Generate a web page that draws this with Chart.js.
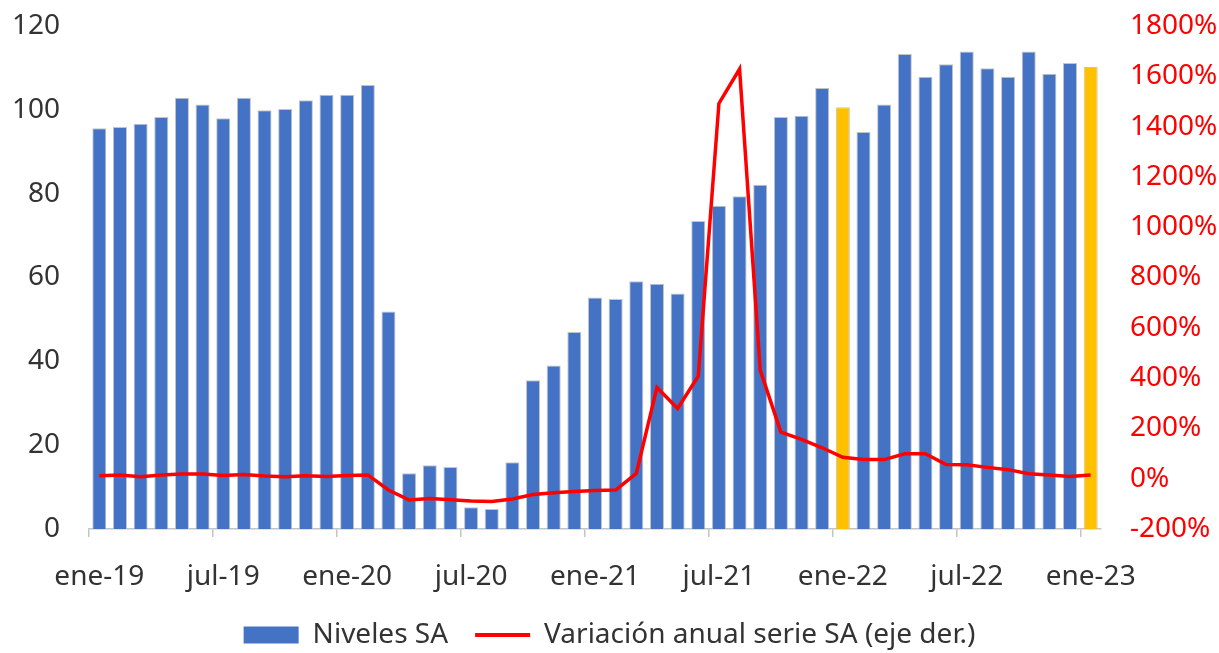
<!DOCTYPE html>
<html>
<head>
<meta charset="utf-8">
<script src="https://cdn.jsdelivr.net/npm/chart.js@4.4.1/dist/chart.umd.min.js"></script>
<style>
  html, body { margin: 0; padding: 0; background: #fff; }
</style>
</head>
<body>
<canvas id="grafico" width="1219" height="653"></canvas>
<script>
// etiquetas mensuales ene-19 ... ene-23
const meses = ['ene', 'feb', 'mar', 'abr', 'may', 'jun', 'jul', 'ago', 'sep', 'oct', 'nov', 'dic'];
let etiquetas = [];
for (let a = 19; a <= 23; a++) {
    for (let m = 0; m < 12; m++) {
        etiquetas.push(meses[m] + '-' + a);
        if (a === 23) break;
    }
}

// niveles desestacionalizados (eje izq.)
const niveles = [95.6, 95.9, 96.7, 98.3, 102.9, 101.3, 98.0, 102.9, 99.9, 100.2, 102.3, 103.6,
    103.6, 105.9, 51.9, 13.3, 15.2, 14.8, 5.2, 4.8, 15.9, 35.5, 39.0, 47.0,
    55.2, 54.9, 59.1, 58.5, 56.2, 73.5, 77.1, 79.4, 82.1, 98.3, 98.6, 105.2,
    100.6, 94.7, 101.3, 113.3, 107.9, 110.9, 113.9, 109.9, 107.9, 113.9, 108.6, 111.2,
    110.2];

// variacion anual en % (eje der.)
const variacion = [12, 15, 8, 15, 19, 19, 13, 17, 11, 8, 12, 9,
    13, 15, -45, -85, -79, -84, -89, -91, -81, -63, -56, -51,
    -47, -45, 21, 363, 279, 408, 1492, 1629, 432, 185, 156, 123,
    85, 76, 76, 99, 99, 56, 55, 45, 36, 20, 15, 9,
    15];

// meses marcados en amarillo
const destacados = ['ene-22', 'ene-23'];

const azul = '#4472c4';
const amarillo = '#ffc000';
const rojo = '#ff0000';

Chart.defaults.font.family = "'Noto Sans', sans-serif";
Chart.defaults.font.size = 28;
Chart.defaults.color = '#333333';

// ejes verticales de ancho fijo y sin relleno extra arriba/abajo
const ejeVertical = ancho => scale => {
    scale.width = ancho;
    scale.paddingTop = 0;
    scale.paddingBottom = 0;
};

let grafico = new Chart(document.getElementById('grafico'), {
    type: 'bar',
    data: {
        labels: etiquetas,
        datasets: [
            {
                type: 'bar',
                label: 'Niveles SA',
                data: niveles,
                yAxisID: 'y',
                backgroundColor: etiquetas.map(e => destacados.includes(e) ? amarillo : azul),
                borderColor: 'rgba(190,190,190,0.9)',
                borderWidth: 1,
                barPercentage: 0.68,
                categoryPercentage: 1,
                order: 2
            },
            {
                type: 'line',
                label: 'Variación anual serie SA (eje der.)',
                data: variacion,
                yAxisID: 'y1',
                borderColor: rojo,
                backgroundColor: rojo,
                borderWidth: 3.5,
                pointRadius: 0,
                tension: 0,
                order: 1
            }
        ]
    },
    options: {
        responsive: false,
        devicePixelRatio: 1,
        animation: false,
        layout: {
            padding: { top: 26, left: 0, right: 0, bottom: -6 }
        },
        scales: {
            x: {
                offset: true,
                grid: {
                    offset: true,
                    drawOnChartArea: false,
                    drawTicks: true,
                    tickLength: 8,
                    lineWidth: 1.5,
                    color: ctx => (ctx.index !== undefined && ctx.index % 6 === 0) ? '#c4c4c4' : 'rgba(0,0,0,0)'
                },
                border: { display: true, color: '#c4c4c4', width: 1.5 },
                ticks: {
                    autoSkip: false,
                    maxRotation: 0,
                    padding: 23,
                    callback: (value, index) => index % 6 === 0 ? etiquetas[index] : ''
                },
                afterFit: scale => { scale.height = 65; }
            },
            y: {
                position: 'left',
                min: 0,
                max: 120,
                ticks: { stepSize: 20, padding: 29 },
                grid: { display: false, drawTicks: false },
                border: { display: false },
                afterFit: ejeVertical(89)
            },
            y1: {
                position: 'right',
                min: -200,
                max: 1800,
                ticks: {
                    stepSize: 200,
                    padding: 29,
                    color: rojo,
                    callback: v => v + '%'
                },
                grid: { display: false, drawTicks: false },
                border: { display: false },
                afterFit: ejeVertical(118)
            }
        },
        plugins: {
            tooltip: { enabled: false },
            legend: {
                position: 'bottom',
                labels: {
                    padding: 27,
                    usePointStyle: true,
                    pointStyleWidth: 55,
                    boxHeight: 17,
                    sort: (a, b) => a.datasetIndex - b.datasetIndex,
                    generateLabels: chart => {
                        let items = Chart.defaults.plugins.legend.labels.generateLabels(chart);
                        items.forEach(it => {
                            if (it.datasetIndex === 0) {
                                it.pointStyle = 'rect';
                                it.fillStyle = azul;
                                it.strokeStyle = azul;
                                it.lineWidth = 0;
                            } else {
                                it.pointStyle = 'line';
                                it.strokeStyle = rojo;
                                it.lineWidth = 4;
                            }
                        });
                        return items;
                    }
                }
            }
        }
    }
});
</script>
</body>
</html>
